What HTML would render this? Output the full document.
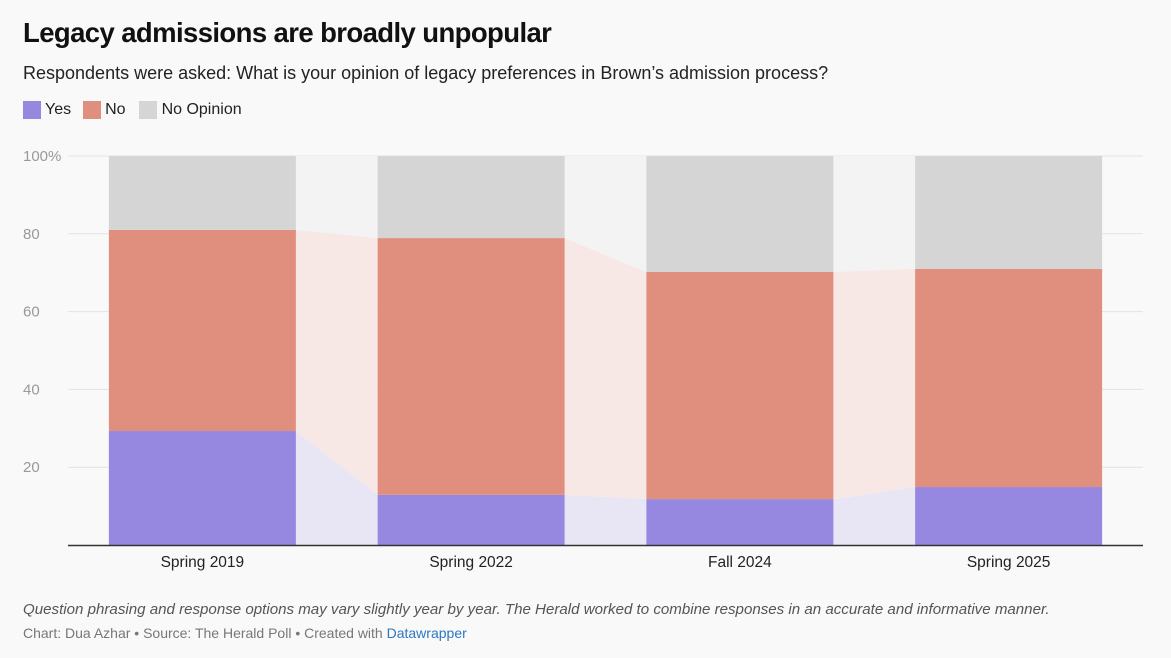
<!DOCTYPE html>
<html><head><meta charset="utf-8">
<style>
body{margin:0;width:1171px;height:658px;background:#f9f9f9;font-family:"Liberation Sans",sans-serif;position:relative;overflow:hidden}
.t{position:absolute;left:23px;white-space:nowrap}
</style></head><body>
<div class="t" style="top:17px;font-size:27.5px;font-weight:bold;color:#111;letter-spacing:-0.6px">Legacy admissions are broadly unpopular</div>
<div class="t" style="top:63px;font-size:18px;color:#222">Respondents were asked: What is your opinion of legacy preferences in Brown’s admission process?</div>
<div class="t" style="top:101px;font-size:16px;color:#222;display:flex;align-items:center">
<span style="display:flex;align-items:center"><span style="width:18px;height:18px;background:#9687e0;margin-right:4px"></span>Yes</span>
<span style="display:flex;align-items:center;margin-left:12px"><span style="width:18px;height:18px;background:#e08f7e;margin-right:4px"></span>No</span>
<span style="display:flex;align-items:center;margin-left:13px"><span style="width:18px;height:18px;background:#d5d5d5;margin-right:5px"></span>No Opinion</span>
</div>
<svg id="chart" width="1171" height="658" style="position:absolute;left:0;top:0"></svg>
<div class="t" style="top:601px;font-size:15.1px;font-style:italic;color:#555">Question phrasing and response options may vary slightly year by year. The Herald worked to combine responses in an accurate and informative manner.</div>
<div class="t" style="top:625px;font-size:14px;color:#777">Chart: Dua Azhar • Source: The Herald Poll • Created with <span style="color:#2a78c2">Datawrapper</span></div>
<script>
const categories=["Spring 2019","Spring 2022","Fall 2024","Spring 2025"];
const yesVals=[29.3,12.9,11.8,14.9];
const noVals=[51.7,66.0,58.4,56.1];
const yTicks=[20,40,60,80,100];
const svg=document.getElementById('chart');
const NS="http://www.w3.org/2000/svg";
const x0=68,x1=1143,y0=545,y100=156,bw=187;
const band=(x1-x0)/categories.length;
function y(v){return y0-(y0-y100)*v/100;}
function cx(i){return x0+band*(i+0.5);}
function mk(tag,attrs){const e=document.createElementNS(NS,tag);for(const k in attrs)e.setAttribute(k,attrs[k]);svg.appendChild(e);return e;}
yTicks.forEach(t=>{
  const g=mk('line',{x1:x0,x2:x1,y1:y(t),y2:y(t),stroke:'#e3e3e3','stroke-width':1});
  
  
  const tx=mk('text',{x:23,y:y(t)+5,'font-size':15,fill:'#999','font-family':'Liberation Sans, sans-serif'});
  tx.textContent=t===100?'100%':t;
  
  
});
for(let i=0;i<categories.length-1;i++){
  const a=cx(i)+bw/2,b=cx(i+1)-bw/2;
  const ya=yesVals[i],yb=yesVals[i+1],ta=yesVals[i]+noVals[i],tb=yesVals[i+1]+noVals[i+1];
  const c1=mk('polygon',{points:`${a},${y(0)} ${a},${y(ya)} ${b},${y(yb)} ${b},${y(0)}`,fill:'#e8e6f5'});
  
  
  const c2=mk('polygon',{points:`${a},${y(ya)} ${a},${y(ta)} ${b},${y(tb)} ${b},${y(yb)}`,fill:'#f8e8e5'});
  
  
  const c3=mk('polygon',{points:`${a},${y(ta)} ${a},${y(100)} ${b},${y(100)} ${b},${y(tb)}`,fill:'#f3f3f3'});
  
  
}
categories.forEach((c,i)=>{
  const l=cx(i)-bw/2,yv=yesVals[i],tot=yv+noVals[i];
  const r1=mk('rect',{x:l,y:y(yv),width:bw,height:y(0)-y(yv),fill:'#9687e0'});
  
  
  const r2=mk('rect',{x:l,y:y(tot),width:bw,height:y(yv)-y(tot),fill:'#e08f7e'});
  
  
  const r3=mk('rect',{x:l,y:y(100),width:bw,height:y(tot)-y(100),fill:'#d5d5d5'});
  
  
  const t=mk('text',{x:cx(i),y:567,'text-anchor':'middle','font-size':15.5,fill:'#222','font-family':'Liberation Sans, sans-serif'});
  t.textContent=c;
  
  
});
const ax=mk('line',{x1:x0,x2:x1,y1:y0+0.5,y2:y0+0.5,stroke:'#333','stroke-width':1.5});


</script>
</body></html>
